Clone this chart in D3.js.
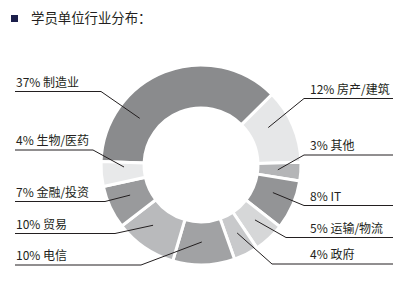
<!DOCTYPE html>
<html>
<head>
<meta charset="utf-8">
<script src="https://cdn.jsdelivr.net/npm/d3@7"></script>
<style>
  body { margin: 0; background: #fff; }
  text { font-family: "Noto Sans CJK SC", "Noto Sans", sans-serif; }
</style>
</head>
<body>
<svg id="chart"></svg>
<script>
// data
let industries = ["制造业", "房产/建筑", "其他", "IT", "运输/物流", "政府", "电信", "贸易", "金融/投资", "生物/医药"];
let shares = [37, 12, 3, 8, 5, 4, 10, 10, 7, 4];
let sliceColors = ["#8a8b8d", "#e6e7e8", "#b4b5b7", "#939496", "#d6d7d8", "#c8c9cb", "#a1a2a4", "#b9babc", "#999a9c", "#e8e9ea"];

// label layout (where each callout sits)
let labelSide = ["left", "right", "right", "right", "right", "right", "left", "left", "left", "left"];
let labelY = [91.5, 98.5, 155, 205.5, 237.5, 264, 265, 233.5, 201.5, 150];
let bendX = [101, 304, 304, 304, 286, 272, 141, 115, 105, 93];
let pointerDeg = [-52.7, 60.9, 93.6, 111, 135.5, 152, 179.4, 218.5, 247, 268.5];

let width = 419, height = 285;
let cx = 201, cy = 165;
let outerR = 100, innerR = 57, pointerR = 77;

let svg = d3.select("#chart").attr("width", width).attr("height", height);

// title
svg.append("rect").attr("x", 11).attr("y", 15).attr("width", 7).attr("height", 7).attr("fill", "#1b1f4b");
svg.append("text").attr("x", 31).attr("y", 23)
  .attr("font-size", 13.4).attr("fill", "#231f20")
  .text("学员单位行业分布：");

let data = industries.map((name, i) => ({
  name: name, value: shares[i], color: sliceColors[i],
  side: labelSide[i], ly: labelY[i], bx: bendX[i], pa: pointerDeg[i]
}));

let startA = -88 * Math.PI / 180;
let pie = d3.pie().value(d => d.value).sort(null)
  .startAngle(startA).endAngle(startA + 2 * Math.PI);
let arc = d3.arc().innerRadius(innerR).outerRadius(outerR);

let g = svg.append("g").attr("transform", `translate(${cx},${cy})`);
let arcs = pie(data);

g.selectAll("path")
  .data(arcs)
  .join("path")
  .attr("d", arc)
  .attr("fill", d => d.data.color)
  .attr("stroke", "#fff")
  .attr("stroke-width", 3);

// leader lines + labels
let leftX0 = 15, rightX1 = 393;
let lines = svg.append("g");
arcs.forEach(d => {
  let a = d.data.pa * Math.PI / 180;
  let px = cx + pointerR * Math.sin(a);
  let py = cy - pointerR * Math.cos(a);
  let ly = d.data.ly;
  let endX = d.data.side === "left" ? leftX0 : rightX1;
  let pts = [[endX, ly], [d.data.bx, ly], [px, py]];

  lines.append("path")
    .attr("d", d3.line()(pts))
    .attr("fill", "none")
    .attr("stroke", "#231f20")
    .attr("stroke-width", 1);

  svg.append("text")
    .attr("x", d.data.side === "left" ? 16 : 310)
    .attr("y", ly - 5)
    .attr("font-size", 12)
    .attr("fill", "#231f20")
    .text(d.data.value + "% " + d.data.name);
});
</script>
</body>
</html>
